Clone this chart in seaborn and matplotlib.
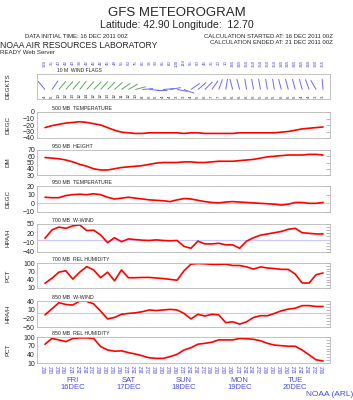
import numpy as np
import pandas as pd
import seaborn as sns
import matplotlib.pyplot as plt
from matplotlib.collections import LineCollection

# ---- data (16 DEC 2011 00Z .. 21 DEC 2011 00Z, every 3 h) ----
steps = list(range(41))
time_labels = [f"{h:02d}Z" for d in range(5) for h in range(0, 24, 3)] + ["00Z"]
day_labels = ["FRI\n16DEC", "SAT\n17DEC", "SUN\n18DEC", "MON\n19DEC", "TUE\n20DEC"]
day_steps = [4, 12, 20, 28, 36]

wind_dir = [320, 35, 40, 42, 40, 38, 42, 45, 42, 45, 48, 55, 60, 75, 85, 95, 90, 85, 80, 100,
            110, 55, 50, 45, 35, 20, 10, 345, 345, 350, 350, 350, 350, 350, 345, 345, 345, 345,
            340, 330, 355]
wind_spd = [4, 5, 10, 12, 13, 12, 14, 12, 12, 13, 12, 11, 12, 10, 8, 6, 5, 4, 4, 3,
            3, 4, 5, 6, 7, 7, 6, 6, 6, 6, 6, 5, 5, 5, 6, 6, 5, 4, 4, 3, 3]

temp500 = [-24, -21, -19, -17, -16, -15, -16, -18, -20, -24, -28, -31, -32, -33, -33, -32, -32,
           -32, -32, -32, -33, -32, -32, -33, -33, -33, -33, -33, -32, -32, -32, -32, -32, -32,
           -31, -30, -28, -26, -25, -24, -23]
height950 = [58, 57, 56, 54, 51, 47, 44, 40, 38, 38, 40, 42, 43, 44, 45, 47, 49, 50, 50, 50,
             51, 51, 50, 50, 51, 52, 52, 52, 53, 54, 55, 57, 59, 60, 61, 62, 62, 62, 63, 63, 62]
temp950 = [7, 6.5, 6.5, 9, 10, 10.5, 10, 11, 10, 7, 5, 6, 7, 6, 5, 4, 3.5, 3, 2, 4,
           5.5, 5, 3.5, 2, 1, 0.5, 1.5, 2, 1.5, 1, 0.5, 0, -0.5, -1, -2, -1, 1, 1, 0, 0, 1]
wwind700 = [4, 31, 40, 36, 44, 47, 29, 30, 15, -10, 6, -7, 2, 0, -2, -3, -1, -3, -4, -3,
            -22, -28, -5, -14, -14, -12, -17, -17, -28, -5, 6, 14, 18, 22, 26, 33, 36, 22, 20, 18, 18]
rh700 = [27, 45, 67, 72, 42, 67, 87, 75, 47, 67, 36, 75, 47, 47, 48, 48, 46, 44, 41, 38,
         72, 96, 98, 97, 95, 95, 96, 91, 91, 86, 78, 86, 82, 80, 77, 77, 60, 28, 28, 58, 64]
wwind850 = [-8, 13, 34, 28, 26, 40, 39, 30, 5, -22, -17, -6, -3, -1, 3, 9, 7, 9, 11, 9,
            -3, -22, -6, -12, -6, -8, -35, -32, -40, -32, -17, -11, -11, -3, 6, 12, 15, 24, 24, 21, 21]
rh850 = [75, 95, 90, 84, 95, 97, 97, 95, 67, 55, 51, 52, 46, 41, 35, 28, 26, 26, 32, 40,
         55, 63, 75, 78, 82, 90, 90, 90, 95, 94, 92, 87, 78, 72, 70, 68, 68, 55, 38, 21, 17]

df = pd.DataFrame({"step": steps, "t500": temp500, "h950": height950, "t950": temp950,
                   "w700": wwind700, "rh700": rh700, "w850": wwind850, "rh850": rh850})

# (column, title, unit, top px, bottom px, ylim, labelled ticks, tick step)
panels = [
    ("t500", "500 MB  TEMPERATURE", "DEGC", 112, 138, (-40, 0), [-40, -30, -20, -10, 0], 10),
    ("h950", "950 MB  HEIGHT", "DM", 150, 175, (30, 70), [30, 40, 50, 60, 70], 10),
    ("t950", "950 MB  TEMPERATURE", "DEGC", 186, 212, (-10, 20), [-10, 0, 10, 20], 10),
    ("w700", "700 MB  W-WIND", "HPA/H", 224, 252, (-40, 50), [-40, -10, 20, 50], 10),
    ("rh700", "700 MB  REL HUMIDITY", "PCT", 263, 288, (10, 100), [10, 40, 70, 100], 10),
    ("w850", "850 MB  W-WIND", "HPA/H", 301, 327, (-50, 40), [-50, -20, 10, 40], 10),
    ("rh850", "850 MB  REL HUMIDITY", "PCT", 337, 363, (10, 100), [10, 40, 70, 100], 10),
]
zero_line = {"t950", "w700", "w850"}

sns.set_theme(style="white")
plt.rcParams["font.family"] = ["Liberation Sans", "DejaVu Sans"]
plt.rcParams["axes.edgecolor"] = "#b8b8b8"
plt.rcParams["axes.linewidth"] = 0.6

W, H = 353, 400
BLUE = "#4a4ae8"
fig = plt.figure(figsize=(W / 100, H / 100), dpi=100)


def px_axes(top, bottom):
    return fig.add_axes([37 / W, 1 - bottom / H, 293 / W, (bottom - top) / H])


def fy(y):
    return 1 - y / H


# ---- header ----
fig.text(0.5, fy(13), "GFS METEOROGRAM", ha="center", va="center", fontsize=9.5)
fig.text(0.5, fy(25), "Latitude: 42.90 Longitude:  12.70", ha="center", va="center", fontsize=7.6)
fig.text(25 / W, fy(36), "DATA INITIAL TIME: 16 DEC 2011 00Z", va="center", fontsize=4.3)
fig.text(333 / W, fy(36), "CALCULATION STARTED AT: 16 DEC 2011 00Z", ha="right", va="center", fontsize=4.3)
fig.text(333 / W, fy(43), "CALCULATION ENDED AT: 21 DEC 2011 00Z", ha="right", va="center", fontsize=4.3)
fig.text(0, fy(45), "NOAA AIR RESOURCES LABORATORY", va="center", fontsize=6.2)
fig.text(0, fy(52), "READY Web Server", va="center", fontsize=4.4)

# ---- wind flags (y scaled so one unit = one step in pixels) ----
ax = px_axes(74, 99)
x_lo, x_hi = -1.15, 41
y_top = 25 / (293 / (x_hi - x_lo))
ax.set_xlim(x_lo, x_hi)
ax.set_ylim(0, y_top)
rad = np.deg2rad(wind_dir)
base = 0.38 * y_top
shaft = 1.55
segs = [[(x, base), (x + shaft * np.sin(r), base + shaft * np.cos(r))] for x, r in zip(steps, rad)]
flag_colors = ["#5aa85a" if s >= 10 else "#6a6af0" for s in wind_spd]
ax.add_collection(LineCollection(segs, colors=flag_colors, linewidths=0.7))
tr = ax.get_xaxis_transform()
for i, (d, s) in enumerate(zip(wind_dir, wind_spd)):
    ax.text(i, 0.05, str(s), transform=tr, rotation=90, ha="center", va="bottom", fontsize=3.2)
    ax.text(i, 1.44, str(d), transform=tr, rotation=90, ha="center", va="center", fontsize=3.2, color=BLUE)
ax.text(0.068, 1.03, "10 M  WIND FLAGS", transform=ax.transAxes, va="bottom", fontsize=3.6)
ax.set_xticks([])
ax.set_yticks([])
ax.set_ylabel("DEGKTS", fontsize=4.5)
ax.yaxis.set_label_coords(-0.092, 0.5)

# ---- data panels ----
for k, (col, title, unit, top, bottom, ylim, ylab, ystep) in enumerate(panels):
    ax = px_axes(top, bottom)
    if col in zero_line:
        ax.axhline(0, color="#c8c8ff", lw=0.8, zorder=1)
    sns.lineplot(data=df, x="step", y=col, ax=ax, color="#ff0000", lw=1.2)
    ax.set_xlim(x_lo, x_hi)
    ax.set_ylim(*ylim)
    ax.set_yticks(ylab)
    ax.set_yticks(np.arange(ylim[0], ylim[1] + 1, ystep), minor=True)
    ax.set_xticks(steps)
    ax.tick_params(direction="in", length=3, width=0.5, color="#a0a0a0", labelsize=5, pad=1.5)
    ax.tick_params(axis="y", which="both", right=True, direction="in", length=3, width=0.5, color="#a0a0a0")
    ax.set_xlabel("")
    ax.set_ylabel(unit, fontsize=4.5)
    ax.yaxis.set_label_coords(-0.092, 0.5)
    ax.text(0.051, 1.03, title, transform=ax.transAxes, va="bottom", fontsize=3.8)
    if k == len(panels) - 1:
        ax.set_xticklabels(time_labels, rotation=90, fontsize=3.4, color=BLUE)
        for s, lab in zip(day_steps, day_labels):
            ax.text(s, -0.80, lab, transform=ax.get_xaxis_transform(), ha="center",
                    va="center", fontsize=5.5, color=BLUE, linespacing=1.0)
    else:
        ax.set_xticklabels([])

fig.text(1.0, fy(395), "NOAA (ARL)", ha="right", va="center", fontsize=6, color=BLUE)

fig.savefig("out.png", dpi=100)
